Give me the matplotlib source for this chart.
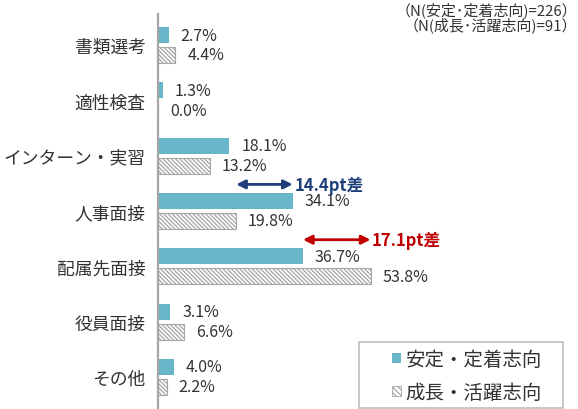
import matplotlib
matplotlib.use('Agg')
import matplotlib.pyplot as plt
import numpy as np
from matplotlib.patches import Patch, Rectangle

plt.rcParams['font.family'] = ['Noto Sans CJK JP', 'DejaVu Sans']
plt.rcParams['hatch.linewidth'] = 0.9

categories = ['書類選考', '適性検査', 'インターン・実習', '人事面接', '配属先面接', '役員面接', 'その他']
stable = [2.7, 1.3, 18.1, 34.1, 36.7, 3.1, 4.0]
growth = [4.4, 0.0, 13.2, 19.8, 53.8, 6.6, 2.2]
series_names = ['安定・定着志向', '成長・活躍志向']
n_notes = ['（N(安定･定着志向)=226）', '（N(成長･活躍志向)=91）']

blue = '#68B5C7'
gray = '#A6A6A6'
txt = '#333333'
hatch = '\\' * 8

fig = plt.figure(figsize=(5.78, 4.10), dpi=100)
ax = fig.add_axes([158 / 578, 0, 395 / 578, 395 / 410])

y = np.arange(len(categories))
h = 0.29
off = 0.18
ax.barh(y - off, stable, height=h, color=blue, edgecolor='none')
ax.barh(y + off, growth, height=h, color='white', edgecolor=gray,
        hatch=hatch, linewidth=0.8)

for i in range(len(categories)):
    ax.annotate(f'{stable[i]:.1f}%', (stable[i], y[i] - off), xytext=(8.5, 0),
                textcoords='offset points', va='center', ha='left',
                fontsize=11.5, color=txt)
    ax.annotate(f'{growth[i]:.1f}%', (growth[i], y[i] + off), xytext=(8.5, 0),
                textcoords='offset points', va='center', ha='left',
                fontsize=11.5, color=txt)

# difference arrows
ax.annotate('', xy=(growth[3], 2.52), xytext=(stable[3], 2.52),
            arrowprops=dict(arrowstyle='<|-|>', color='#1F3F7A', lw=2,
                            mutation_scale=13, shrinkA=0, shrinkB=0))
ax.text(stable[3] + 0.4, 2.52, '14.4pt差', color='#1F3F7A', fontsize=12,
        fontweight='bold', va='center', ha='left')
ax.annotate('', xy=(stable[4], 3.52), xytext=(growth[4], 3.52),
            arrowprops=dict(arrowstyle='<|-|>', color='#C00000', lw=2,
                            mutation_scale=13, shrinkA=0, shrinkB=0))
ax.text(growth[4] + 0.4, 3.52, '17.1pt差', color='#C00000', fontsize=12,
        fontweight='bold', va='center', ha='left')

ax.set_xlim(0, 100)
ax.set_ylim(6.58, -0.56)
ax.set_yticks(y)
ax.set_yticklabels(categories, fontsize=12.8, color=txt)
ax.tick_params(axis='y', length=0, pad=9)
ax.set_xticks([])
for s in ['top', 'right', 'bottom']:
    ax.spines[s].set_visible(False)
ax.spines['left'].set_color(gray)
ax.spines['left'].set_linewidth(1.6)

fig.text(577 / 578, 1 - 10 / 410, n_notes[0], ha='right', va='center',
         fontsize=10.8, color=txt)
fig.text(577 / 578, 1 - 25 / 410, n_notes[1], ha='right', va='center',
         fontsize=10.8, color=txt)

# legend frame drawn separately so it can be wider than the entries
fig.patches.append(Rectangle((359 / 578, 1 - 409 / 410), 204 / 578, 66 / 410,
                             transform=fig.transFigure, facecolor='white',
                             edgecolor='#BFBFBF', linewidth=1.2, zorder=5))
handles = [Patch(facecolor=blue, edgecolor='none'),
           Patch(facecolor='white', edgecolor=gray, hatch='\\' * 6, linewidth=0.6)]
leg = fig.legend(handles, series_names, loc='center',
                 bbox_to_anchor=(467 / 578, 1 - 377 / 410), fontsize=14,
                 handlelength=0.45, handleheight=0.45, handletextpad=0.25,
                 labelspacing=0.6, borderpad=0, frameon=False)
leg.set_zorder(6)
for t in leg.get_texts():
    t.set_color(txt)

fig.savefig('out.png', dpi=100)
